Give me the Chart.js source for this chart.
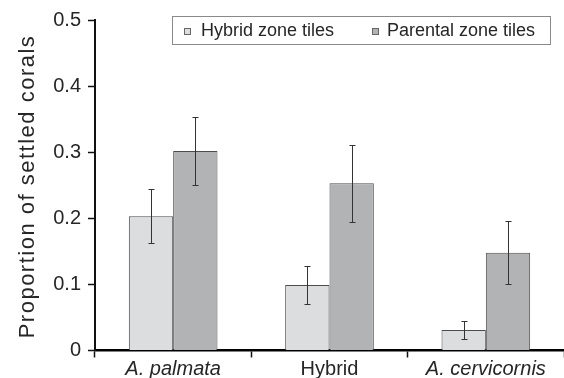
<!DOCTYPE html>
<html>
<head>
<meta charset="utf-8">
<script src="https://cdn.jsdelivr.net/npm/chart.js@4/dist/chart.umd.min.js"></script>
<style>
  html, body { margin: 0; padding: 0; background: #fff; }
  #wrap { width: 564px; height: 378px; }
</style>
</head>
<body>
<div id="wrap"><canvas id="c" width="564" height="378"></canvas></div>
<script>
// Settlement data per larval type
const categories = ['A. palmata', 'Hybrid', 'A. cervicornis'];
const seriesNames = ['Hybrid zone tiles', 'Parental zone tiles'];
const hybridZone = [0.203, 0.099, 0.031];
const hybridZoneErr = [0.041, 0.029, 0.014];
const parentalZone = [0.302, 0.253, 0.148];
const parentalZoneErr = [0.051, 0.058, 0.048];
const yTicks = [0, 0.1, 0.2, 0.3, 0.4, 0.5];
const yTitle = 'Proportion of settled corals';

const FONT = '"Liberation Sans", Arial, Helvetica, sans-serif';
const INK = '#262626';

// Vertical error bars with short caps
const errorBars = {
  id: 'errorBars',
  afterDatasetsDraw(chart) {
    const ctx = chart.ctx, ys = chart.scales.y;
    ctx.save();
    ctx.strokeStyle = '#333';
    ctx.lineWidth = 1;
    chart.data.datasets.forEach((ds, i) => {
      const meta = chart.getDatasetMeta(i);
      meta.data.forEach((bar, j) => {
        const v = ds.data[j], e = ds.errors[j];
        const x = Math.round(bar.x) + 0.5;
        const t = Math.round(ys.getPixelForValue(v + e)) + 0.5;
        const b = Math.round(ys.getPixelForValue(v - e)) + 0.5;
        ctx.beginPath();
        ctx.moveTo(x, t); ctx.lineTo(x, b);
        ctx.moveTo(x - 3, t); ctx.lineTo(x + 3, t);
        ctx.moveTo(x - 3, b); ctx.lineTo(x + 3, b);
        ctx.stroke();
      });
    });
    ctx.restore();
  }
};

// Boxed legend inside the plot, plus the rotated y-axis title
const decorations = {
  id: 'decorations',
  afterDraw(chart) {
    const ctx = chart.ctx;
    ctx.save();
    // legend frame
    ctx.fillStyle = '#fff';
    ctx.fillRect(172, 16, 379, 29);
    ctx.strokeStyle = '#8a8a8a';
    ctx.lineWidth = 1;
    ctx.strokeRect(172.5, 16.5, 378, 28);
    const items = [
      { sx: 184, tx: 201 },
      { sx: 372, tx: 387 }
    ];
    ctx.font = '18px ' + FONT;
    ctx.textBaseline = 'middle';
    ctx.textAlign = 'left';
    chart.data.datasets.forEach((ds, i) => {
      const it = items[i];
      ctx.fillStyle = ds.backgroundColor;
      ctx.fillRect(it.sx, 28, 7, 7);
      ctx.strokeStyle = '#666';
      ctx.strokeRect(it.sx + 0.5, 28.5, 6, 6);
      ctx.fillStyle = INK;
      ctx.fillText(ds.label, it.tx, 31.5);
    });
    // y-axis title
    ctx.translate(33.5, 186.5);
    ctx.rotate(-Math.PI / 2);
    ctx.font = '22px ' + FONT;
    if ('letterSpacing' in ctx) ctx.letterSpacing = '1.5px';
    ctx.textAlign = 'center';
    ctx.textBaseline = 'alphabetic';
    ctx.fillStyle = INK;
    ctx.fillText(yTitle, 0, 0);
    ctx.restore();
  }
};

new Chart(document.getElementById('c'), {
  type: 'bar',
  data: {
    labels: categories,
    datasets: [
      {
        label: seriesNames[0],
        data: hybridZone,
        errors: hybridZoneErr,
        backgroundColor: '#dcdddf',
        borderColor: '#4d4d4d',
        borderWidth: 1,
        categoryPercentage: 0.567,
        barPercentage: 1.0
      },
      {
        label: seriesNames[1],
        data: parentalZone,
        errors: parentalZoneErr,
        backgroundColor: '#b2b3b5',
        borderColor: '#4d4d4d',
        borderWidth: 1,
        categoryPercentage: 0.567,
        barPercentage: 1.0
      }
    ]
  },
  options: {
    responsive: false,
    animation: false,
    devicePixelRatio: 1,
    layout: { padding: { left: 0, top: 20, right: -2, bottom: 0 } },
    plugins: {
      legend: { display: false },
      tooltip: { enabled: false }
    },
    scales: {
      x: {
        offset: true,
        grid: {
          offset: true,
          drawOnChartArea: false,
          drawTicks: true,
          tickLength: 7,
          tickColor: '#111',
          tickWidth: 1.5
        },
        border: { display: true, color: '#000', width: 2.5 },
        ticks: {
          color: INK,
          padding: 0,
          font: (c) => ({
            family: FONT,
            size: 20,
            style: c.index === 1 ? 'normal' : 'italic'
          })
        },
        afterFit(s) { s.height = 27.5; }
      },
      y: {
        min: 0,
        max: 0.5,
        afterBuildTicks(s) { s.ticks = yTicks.map(v => ({ value: v })); },
        grid: {
          drawOnChartArea: false,
          drawTicks: true,
          tickLength: 7,
          tickColor: '#111',
          tickWidth: 1.5
        },
        border: { display: true, color: '#111', width: 2 },
        ticks: {
          color: INK,
          padding: 7,
          font: { family: FONT, size: 20 },
          callback: (v) => (v === 0 ? '0' : v.toFixed(1))
        },
        afterFit(s) { s.width = 95; }
      }
    }
  },
  plugins: [errorBars, decorations]
});
</script>
</body>
</html>
